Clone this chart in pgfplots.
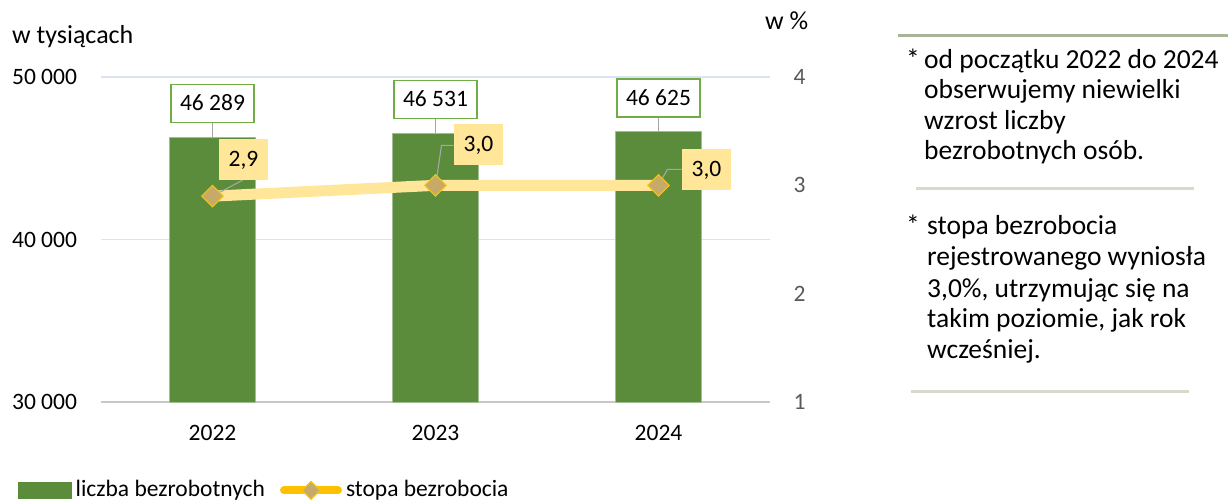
\documentclass[border=0pt]{standalone}
\usepackage{pgfplots}
\pgfplotsset{compat=1.18}
\usepackage{fontspec}
\setmainfont{Carlito}
\definecolor{bargreen}{HTML}{5B8C3C}
\definecolor{barline}{HTML}{A3BD92}
\definecolor{boxgreen}{HTML}{70AD47}
\definecolor{lineyellow}{HTML}{FFE699}
\definecolor{legyellow}{HTML}{FFC000}
\definecolor{gridc}{HTML}{DCE2F2}
\definecolor{axisgrey}{HTML}{C8C8C8}
\definecolor{leader}{HTML}{A6A6A6}
\definecolor{sepA}{HTML}{A9B598}
\definecolor{sepB}{HTML}{D6DBCE}
\definecolor{diamfill}{HTML}{C8AA68}
\definecolor{diamdraw}{HTML}{F2C416}
\definecolor{ticklabgrey}{HTML}{595959}
\pgfplotsset{/pgf/number format/assume math mode=true}

\pgfplotstableread{
x year count rate dx dy
0 2022 46289 2.9 31 37
1 2023 46531 3.0 43 40.5
2 2024 46625 3.0 48 15.5
}\datatable

\newcommand{\axfont}{\fontsize{23.5pt}{28pt}\selectfont}
\newcommand{\titlefont}{\fontsize{26pt}{30pt}\selectfont}
\newcommand{\panelfont}{\fontsize{27.5pt}{31pt}\selectfont}

\begin{document}
\axfont
\begin{tikzpicture}[x=1pt,y=1pt]
\useasboundingbox (0,0) rectangle (1228,501);
% ---------- bars (left axis) ----------
\begin{axis}[
  at={(101pt,99pt)}, anchor=south west,
  scale only axis, width=669pt, height=325pt,
  xmin=-0.5, xmax=2.5, ymin=30000, ymax=50000,
  scaled y ticks=false,
  axis y line*=left, axis x line*=bottom,
  y axis line style={draw=none},
  x axis line style={draw=axisgrey, line width=1.3pt},
  major tick length=0pt,
  xtick={0,1,2}, xticklabels={2022,2023,2024},
  ytick={30000,40000,50000}, yticklabels={30 000,40 000,50 000},
  xticklabel style={font=\axfont, text=black, yshift=-15.5pt},
  yticklabel style={font=\axfont, text=black, xshift=-16pt},
  ymajorgrids, grid style={draw=gridc, line width=1.3pt},
  clip=false,
]
\addplot[ybar, bar width=86pt, fill=bargreen, draw=barline, line width=0.8pt,
  nodes near coords={\pgfmathprintnumber[fixed,1000 sep={\ }]{\pgfplotspointmeta}},
  point meta=y,
  every node near coord/.append style={font=\axfont, text=black, fill=white, draw=boxgreen,
    line width=1.6pt, anchor=south, yshift=14pt, inner xsep=9pt, inner ysep=11pt,
    text height=15pt, text depth=1pt},
] table[x=x,y=count]{\datatable};
\draw[leader, line width=1.1pt] (axis cs:0,46289) -- ++(0pt,14pt);
\draw[leader, line width=1.1pt] (axis cs:1,46531) -- ++(0pt,14pt);
\draw[leader, line width=1.1pt] (axis cs:2,46625) -- ++(0pt,14pt);
\end{axis}
% ---------- rate (right axis) ----------
\begin{axis}[
  at={(101pt,99pt)}, anchor=south west,
  scale only axis, width=669pt, height=325pt,
  xmin=-0.5, xmax=2.5, ymin=1, ymax=4,
  hide x axis, axis y line*=right,
  y axis line style={draw=none},
  major tick length=0pt,
  ytick={1,2,3,4},
  yticklabel style={font=\axfont, text=ticklabgrey, xshift=15.5pt},
  clip=false,
  legend style={at={(-0.124,-0.272)}, anchor=west, draw=none, fill=none,
    inner sep=0pt, font=\axfont, legend columns=2,
    /tikz/every odd column/.append style={column sep=2pt},
    /tikz/every even column/.append style={column sep=13pt}},
  legend cell align=left,
]
\addlegendimage{legend image code/.code={\fill[bargreen] (0pt,-8pt) rectangle (53pt,8pt);}}
\addlegendentry{liczba bezrobotnych}
\addlegendimage{legend image code/.code={%
  \draw[legyellow, line width=8pt, line cap=round] (4pt,0pt) -- (58pt,0pt);
  \filldraw[fill=diamfill, draw=diamdraw, line width=1pt] (31pt,-9pt) -- (40pt,0pt) -- (31pt,9pt) -- (22pt,0pt) -- cycle;}}
\addlegendentry{stopa bezrobocia}
\addplot[lineyellow, line width=11pt, forget plot,
  mark=square*, mark size=7.6pt,
  mark options={rotate=45, fill=diamfill, draw=diamdraw, line width=1pt, solid},
  visualization depends on={\thisrow{dx} \as \labdx},
  visualization depends on={\thisrow{dy} \as \labdy},
  nodes near coords={\pgfmathprintnumber[fixed,fixed zerofill,precision=1,use comma]{\pgfplotspointmeta}},
  point meta=y,
  every node near coord/.append style={font=\axfont, text=black, fill=lineyellow, draw=none,
    anchor=center, xshift=\labdx, yshift=\labdy, inner xsep=10pt, inner ysep=12.5pt,
    text height=15pt, text depth=1pt},
] table[x=x,y=rate]{\datatable};
% leader lines from the labels to the points
\draw[leader, line width=1.1pt] (axis cs:0,2.9) ++(30pt,16pt) -- ++(-28pt,-15pt);
\draw[leader, line width=1.1pt] (axis cs:1,3.0) ++(18pt,40pt) -- ++(-12pt,0pt) -- ++(-6pt,-41pt);
\draw[leader, line width=1.1pt] (axis cs:2,3.0) ++(23pt,16pt) -- ++(-14pt,0pt) -- ++(-8pt,-14pt);
\end{axis}
% ---------- axis titles ----------
\node[anchor=base west, inner sep=0pt, font=\titlefont] at (12,457.5) {w tysiącach};
\node[anchor=base west, inner sep=0pt, font=\titlefont] at (765,471.7) {w \%};
% ---------- side panel ----------
\draw[sepA, line width=3pt] (898,465) -- (1228,465);
\draw[sepB, line width=3pt] (916,312.7) -- (1194,312.7);
\draw[sepB, line width=3pt] (911,109.3) -- (1189,109.3);
\begin{scope}[every node/.style={anchor=base west, inner sep=0pt, font=\panelfont}]
\node at (906,432.5) {*};
\node at (924,432.5) {od początku 2022 do 2024};
\node at (924,402) {obserwujemy niewielki};
\node at (924,371.5) {wzrost liczby};
\node at (924,341) {bezrobotnych osób.};
\node at (906,266) {*};
\node at (927,266) {stopa bezrobocia};
\node at (927,235) {rejestrowanego wyniosła};
\node at (927,204) {3,0\%, utrzymując się na};
\node at (927,173) {takim poziomie, jak rok};
\node at (927,143) {wcześniej.};
\end{scope}
\end{tikzpicture}
\end{document}
